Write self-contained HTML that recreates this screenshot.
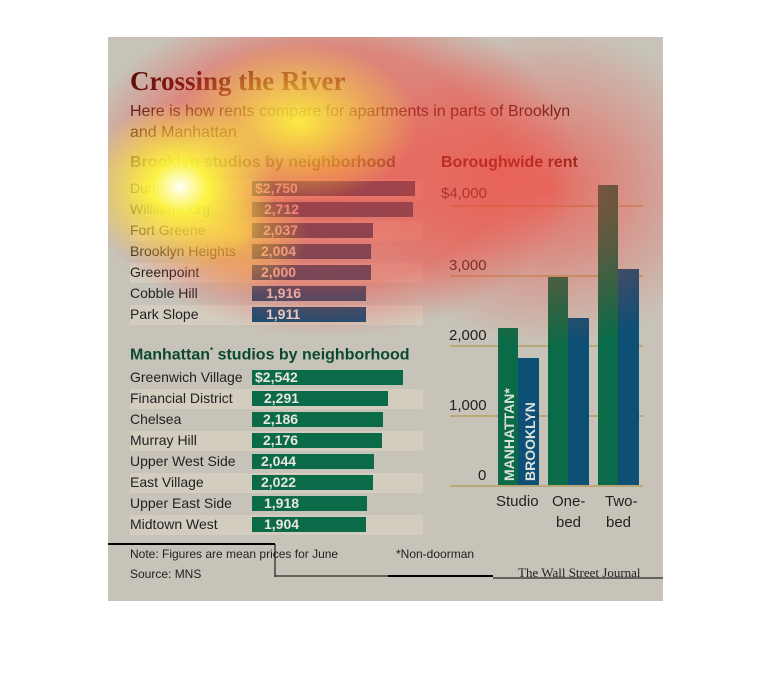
<!DOCTYPE html>
<html><head><style>
body{margin:0;width:770px;height:696px;background:#fff;position:relative;overflow:hidden;font-family:"Liberation Sans",sans-serif}
.p{position:absolute;left:108px;top:37px;width:555px;height:564px;background:#c7c3b9}
.a{position:absolute}
.t{position:absolute;white-space:nowrap}
.row{position:absolute;left:130px;width:293px;height:20px}
.lab{position:absolute;left:130px;font-size:14px;color:#222;white-space:nowrap}
.bar{position:absolute;height:15px;left:252px}
.val{position:absolute;font-size:14px;font-weight:bold;color:#e8e6df}
</style></head><body>
<div class="p"></div>
<div class="t" style="left:130px;top:66px;font-family:'Liberation Serif',serif;font-weight:bold;font-size:27px;color:#4a0c04">Crossing the River</div>
<div class="t" style="left:130px;top:101px;font-size:16px;line-height:21px;color:#3a1208">Here is how rents compare for apartments in parts of Brooklyn<br>and Manhattan</div>
<div class="t" style="left:130px;top:154px;font-size:16px;font-weight:bold;color:#3a4a20">Brooklyn studios by neighborhood</div>
<div class="t" style="left:130px;top:346px;font-size:16px;font-weight:bold;color:#0b4a30">Manhattan<sup style="font-size:8px">*</sup> studios by neighborhood</div>
<div class="t" style="left:441px;top:154px;font-size:16px;font-weight:bold;color:#4a0c04">Boroughwide rent</div>

<div class="row" style="top:179px;background:#d3cdbf"></div>
<div class="row" style="top:221px;background:#d3cdbf"></div>
<div class="row" style="top:263px;background:#d3cdbf"></div>
<div class="row" style="top:305px;background:#d3cdbf"></div>
<div class="bar" style="top:181px;width:163px;background:#0d4f75"></div>
<div class="bar" style="top:202px;width:161px;background:#0d4f75"></div>
<div class="bar" style="top:223px;width:121px;background:#0d4f75"></div>
<div class="bar" style="top:244px;width:119px;background:#0d4f75"></div>
<div class="bar" style="top:265px;width:119px;background:#0d4f75"></div>
<div class="bar" style="top:286px;width:114px;background:#0d4f75"></div>
<div class="bar" style="top:307px;width:114px;background:#0d4f75"></div>
<div class="lab" style="top:180px">Dumbo</div><div class="val" style="left:255px;top:180px">$2,750</div>
<div class="lab" style="top:201px">Williamsburg</div><div class="val" style="left:264px;top:201px">2,712</div>
<div class="lab" style="top:222px">Fort Greene</div><div class="val" style="left:263px;top:222px">2,037</div>
<div class="lab" style="top:243px">Brooklyn Heights</div><div class="val" style="left:261px;top:243px">2,004</div>
<div class="lab" style="top:264px">Greenpoint</div><div class="val" style="left:261px;top:264px">2,000</div>
<div class="lab" style="top:285px">Cobble Hill</div><div class="val" style="left:266px;top:285px">1,916</div>
<div class="lab" style="top:306px">Park Slope</div><div class="val" style="left:266px;top:306px">1,911</div>

<div class="row" style="top:389px;background:#d3cdbf"></div>
<div class="row" style="top:431px;background:#d3cdbf"></div>
<div class="row" style="top:473px;background:#d3cdbf"></div>
<div class="row" style="top:515px;background:#d3cdbf"></div>
<div class="bar" style="top:370px;width:151px;background:#0b6a47"></div>
<div class="bar" style="top:391px;width:136px;background:#0b6a47"></div>
<div class="bar" style="top:412px;width:131px;background:#0b6a47"></div>
<div class="bar" style="top:433px;width:130px;background:#0b6a47"></div>
<div class="bar" style="top:454px;width:122px;background:#0b6a47"></div>
<div class="bar" style="top:475px;width:121px;background:#0b6a47"></div>
<div class="bar" style="top:496px;width:115px;background:#0b6a47"></div>
<div class="bar" style="top:517px;width:114px;background:#0b6a47"></div>
<div class="lab" style="top:369px">Greenwich Village</div><div class="val" style="left:255px;top:369px">$2,542</div>
<div class="lab" style="top:390px">Financial District</div><div class="val" style="left:264px;top:390px">2,291</div>
<div class="lab" style="top:411px">Chelsea</div><div class="val" style="left:263px;top:411px">2,186</div>
<div class="lab" style="top:432px">Murray Hill</div><div class="val" style="left:263px;top:432px">2,176</div>
<div class="lab" style="top:453px">Upper West Side</div><div class="val" style="left:261px;top:453px">2,044</div>
<div class="lab" style="top:474px">East Village</div><div class="val" style="left:261px;top:474px">2,022</div>
<div class="lab" style="top:495px">Upper East Side</div><div class="val" style="left:264px;top:495px">1,918</div>
<div class="lab" style="top:516px">Midtown West</div><div class="val" style="left:264px;top:516px">1,904</div>

<svg class="a" style="left:0;top:0" width="770" height="696">
<g stroke="#b8a878" stroke-width="2">
<line x1="450" y1="206" x2="643" y2="206"/><line x1="450" y1="276" x2="643" y2="276"/>
<line x1="450" y1="346" x2="643" y2="346"/><line x1="450" y1="416" x2="643" y2="416"/>
<line x1="450" y1="486" x2="643" y2="486"/></g>
<g font-family="Liberation Sans" font-size="15" fill="#222">
<text x="441" y="198">$4,000</text><text x="449" y="270">3,000</text><text x="449" y="340">2,000</text>
<text x="449" y="410">1,000</text><text x="478" y="480">0</text>
<text x="496" y="506">Studio</text><text x="552" y="506">One-</text><text x="556" y="527">bed</text>
<text x="605" y="506">Two-</text><text x="606" y="527">bed</text></g>
<rect x="498" y="328" width="20" height="157" fill="#0b6a47"/>
<rect x="518" y="358" width="21" height="127" fill="#0d4f75"/>
<rect x="548" y="277" width="20" height="208" fill="#0b6a47"/>
<rect x="568" y="318" width="21" height="167" fill="#0d4f75"/>
<rect x="598" y="185" width="20" height="300" fill="#0b6a47"/>
<rect x="618" y="269" width="21" height="216" fill="#0d4f75"/>
<g font-family="Liberation Sans" font-size="14" font-weight="bold" fill="#d8e0d8">
<text transform="translate(514,481) rotate(-90)">MANHATTAN*</text>
<text transform="translate(535,481) rotate(-90)">BROOKLYN</text></g>
<g stroke="#000"><line x1="108" y1="544" x2="275" y2="544" stroke-width="2"/>
<line x1="275" y1="544" x2="275" y2="577"/><line x1="275" y1="576" x2="493" y2="576"/>
<line x1="388" y1="576" x2="493" y2="576" stroke-width="2"/><line x1="493" y1="578" x2="663" y2="578"/></g>
<g font-family="Liberation Sans" font-size="12" fill="#222">
<text x="130" y="558">Note: Figures are mean prices for June</text><text x="396" y="558">*Non-doorman</text>
<text x="130" y="578">Source: MNS</text></g>
<text x="518" y="577" font-family="Liberation Serif" font-size="13" fill="#222">The Wall Street Journal</text>
</svg>

<div class="a" style="left:108px;top:37px;width:555px;height:330px;background:radial-gradient(ellipse 250px 170px at 220px 130px,rgba(245,60,50,.7),rgba(245,60,50,.45) 70%,rgba(245,60,50,0)),radial-gradient(ellipse 180px 160px at 440px 150px,rgba(245,60,50,.65),rgba(245,60,50,0))"></div>
<div class="a" style="left:108px;top:37px;width:555px;height:330px;background:radial-gradient(ellipse 95px 85px at 72px 150px,rgba(255,255,245,1),rgba(255,255,60,.9) 30%,rgba(255,240,40,0)),radial-gradient(ellipse 120px 80px at 190px 85px,rgba(255,255,60,.85),rgba(255,240,40,0)),radial-gradient(ellipse 70px 60px at 130px 200px,rgba(255,220,50,.55),rgba(255,200,50,0))"></div>
</body></html>
